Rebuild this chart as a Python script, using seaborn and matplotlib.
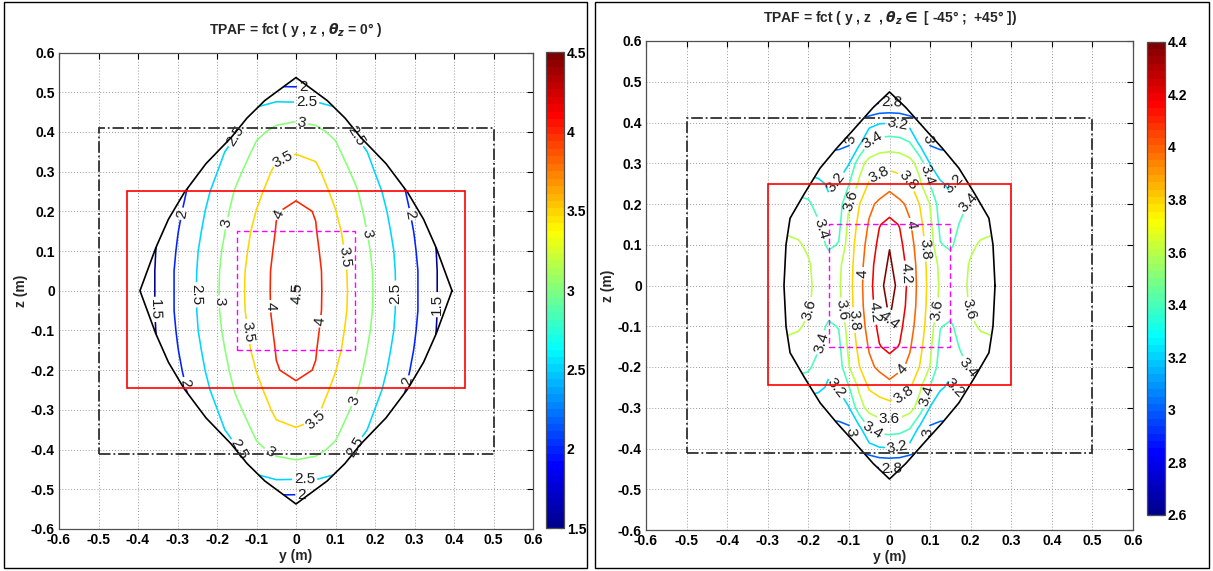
import numpy as np
import matplotlib
matplotlib.use("Agg")
import matplotlib.pyplot as plt
import seaborn as sns
from matplotlib.colors import LinearSegmentedColormap, Normalize
from matplotlib.patches import Polygon, Rectangle
from matplotlib.ticker import MultipleLocator, FuncFormatter

# ---------------- data (one quadrant, y>=0, z>=0; the charts are symmetric) ----------------
# Left chart: TPAF(y, z, theta_z = 0)
y_left = [0.00, 0.05, 0.10, 0.15, 0.20, 0.25, 0.30, 0.35, 0.40, 0.45]
z_left = [0.00, 0.05, 0.10, 0.15, 0.20, 0.25, 0.30, 0.35, 0.40, 0.45, 0.50, 0.55, 0.60]
tpaf_left = [
    [4.52, 4.12, 3.73, 3.35, 2.96, 2.52, 2.09, 1.57, 1.10, 0.65],
    [4.47, 4.11, 3.73, 3.33, 2.95, 2.51, 2.09, 1.57, 1.10, 0.65],
    [4.38, 4.07, 3.67, 3.29, 2.91, 2.48, 2.04, 1.55, 1.05, 0.60],
    [4.25, 4.02, 3.61, 3.23, 2.84, 2.41, 1.98, 1.50, 1.00, 0.55],
    [4.09, 3.98, 3.51, 3.15, 2.76, 2.33, 1.90, 1.45, 0.95, 0.50],
    [3.92, 3.68, 3.41, 3.06, 2.64, 2.24, 1.80, 1.35, 0.90, 0.45],
    [3.72, 3.58, 3.27, 2.90, 2.49, 2.10, 1.70, 1.25, 0.80, 0.40],
    [3.47, 3.42, 3.10, 2.73, 2.35, 2.00, 1.60, 1.20, 0.80, 0.40],
    [3.16, 3.09, 2.92, 2.46, 2.20, 1.90, 1.50, 1.10, 0.70, 0.30],
    [2.85, 2.82, 2.65, 2.30, 2.00, 1.70, 1.30, 0.90, 0.50, 0.20],
    [2.15, 2.20, 2.05, 1.80, 1.50, 1.20, 0.90, 0.60, 0.30, 0.10],
    [1.60, 1.50, 1.40, 1.20, 1.00, 0.80, 0.60, 0.40, 0.20, 0.10],
    [1.00, 1.00, 0.90, 0.80, 0.70, 0.60, 0.40, 0.30, 0.20, 0.10],
]
levels_left = [1.5, 2.0, 2.5, 3.0, 3.5, 4.0, 4.5]
cbar_ticks_left = [1.5, 2.0, 2.5, 3.0, 3.5, 4.0, 4.5]
bound_left_y = [0.395, 0.355, 0.323, 0.283, 0.228, 0.164, 0.124, 0.079, 0.0]
bound_left_z = [0.0, 0.108, 0.18, 0.247, 0.32, 0.386, 0.435, 0.479, 0.537]

# Right chart: TPAF(y, z, theta_z in [-45; +45])
y_right = [0.0, 0.025, 0.05, 0.075, 0.1, 0.125, 0.15, 0.175, 0.2, 0.225, 0.25, 0.275, 0.3]
z_right = [0.0, 0.05, 0.10, 0.15, 0.20, 0.25, 0.30, 0.35, 0.40, 0.45, 0.50]
tpaf_right = [
    [4.47, 4.35, 4.126, 3.933, 3.731, 3.576, 3.50, 3.55, 3.63, 3.68, 3.71, 3.72, 3.72],
    [4.43, 4.31, 4.115, 3.92, 3.72, 3.56, 3.48, 3.53, 3.62, 3.66, 3.69, 3.70, 3.70],
    [4.39, 4.25, 4.077, 3.89, 3.70, 3.41, 3.37, 3.47, 3.57, 3.62, 3.64, 3.64, 3.64],
    [4.25, 4.19, 4.02, 3.85, 3.65, 3.35, 3.30, 3.42, 3.50, 3.54, 3.55, 3.55, 3.55],
    [4.105, 4.04, 3.956, 3.79, 3.59, 3.30, 3.24, 3.33, 3.43, 3.46, 3.46, 3.46, 3.46],
    [3.933, 3.87, 3.82, 3.63, 3.39, 3.22, 3.17, 3.25, 3.30, 3.30, 3.30, 3.30, 3.30],
    [3.73, 3.72, 3.67, 3.52, 3.19, 3.10, 3.08, 3.05, 3.05, 3.05, 3.05, 3.05, 3.05],
    [3.50, 3.48, 3.41, 3.15, 2.97, 2.95, 2.95, 2.95, 2.95, 2.95, 2.95, 2.95, 2.95],
    [3.19, 3.18, 3.12, 3.05, 2.98, 2.95, 2.95, 2.95, 2.95, 2.95, 2.95, 2.95, 2.95],
    [2.79, 2.78, 2.75, 2.70, 2.70, 2.70, 2.70, 2.70, 2.70, 2.70, 2.70, 2.70, 2.70],
    [2.30, 2.30, 2.30, 2.30, 2.30, 2.30, 2.30, 2.30, 2.30, 2.30, 2.30, 2.30, 2.30],
]
levels_right = [2.8, 3.0, 3.2, 3.4, 3.6, 3.8, 4.0, 4.2, 4.4]
cbar_ticks_right = [2.6, 2.8, 3.0, 3.2, 3.4, 3.6, 3.8, 4.0, 4.2, 4.4]
bound_right_y = [0.26, 0.255, 0.245, 0.21, 0.171, 0.13, 0.089, 0.04, 0.0]
bound_right_z = [0.0, 0.1, 0.165, 0.225, 0.288, 0.337, 0.382, 0.437, 0.475]

title_left = r"TPAF = fct ( y , z , $\theta_{z}$ = 0° )"
title_right = r"TPAF = fct ( y , z  , $\theta_{z} \in$ [ -45° ;  +45° ])"

# ---------------- style ----------------
sns.set_theme(style="white")
plt.rcParams["font.family"] = ["Liberation Sans", "DejaVu Sans"]
plt.rcParams["font.weight"] = "bold"
plt.rcParams["font.size"] = 10
plt.rcParams["axes.unicode_minus"] = False
plt.rcParams["axes.labelweight"] = "bold"

seg = {
    "red":   [(0, 0, 0), (0.375, 0, 0), (0.625, 1, 1), (0.875, 1, 1), (1, 0.5, 0.5)],
    "green": [(0, 0, 0), (0.125, 0, 0), (0.375, 1, 1), (0.625, 1, 1), (0.875, 0, 0), (1, 0, 0)],
    "blue":  [(0, 0.5625, 0.5625), (0.125, 1, 1), (0.375, 1, 1), (0.625, 0, 0), (1, 0, 0)],
}
mjet = LinearSegmentedColormap("mjet", seg, N=64)


def mirror(yq, zq, vq):
    yq = np.asarray(yq, float)
    zq = np.asarray(zq, float)
    v = np.asarray(vq, float)
    y = np.concatenate([-yq[:0:-1], yq])
    z = np.concatenate([-zq[:0:-1], zq])
    vy = np.concatenate([v[:, :0:-1], v], axis=1)
    vz = np.concatenate([vy[:0:-1, :], vy], axis=0)
    return y, z, vz


def boundary(by, bz):
    q1 = list(zip(by, bz))
    q2 = [(-a, b) for (a, b) in reversed(q1)][1:]
    q3 = [(-a, -b) for (a, b) in q1][1:]
    q4 = [(a, -b) for (a, b) in reversed(q1)][1:-1]
    return np.array(q1 + q2 + q3 + q4)


def fmt_tick(v, p):
    if abs(v) < 1e-9:
        return "0"
    return "%g" % round(v, 2)


W, H = 1213, 571
fig = plt.figure(figsize=(W / 100, H / 100), dpi=100)
fig.patch.set_facecolor("white")

ax1 = fig.add_axes([59 / W, 1 - 529 / H, 474 / W, 476.5 / H])
cax1 = fig.add_axes([546 / W, 1 - 528 / H, 18 / W, 475.7 / H])
ax2 = fig.add_axes([646 / W, 1 - 530 / H, 487 / W, 489 / H])
cax2 = fig.add_axes([1147 / W, 1 - 515 / H, 18 / W, 473.3 / H])


def draw_panel(ax, cax, yq, zq, vq, levels, vmin, vmax, cticks, by, bz,
               red_w, label_pos):
    y, z, v = mirror(yq, zq, vq)
    Y, Z = np.meshgrid(y, z)
    norm = Normalize(vmin, vmax)
    ax.set_xlim(-0.6, 0.6)
    ax.set_ylim(-0.6, 0.6)
    ax.grid(True, linestyle=(0, (1, 2)), color="#9a9a9a", linewidth=0.7)
    ax.set_axisbelow(True)

    cs = ax.contour(Y, Z, v, levels=levels, cmap=mjet, norm=norm, linewidths=1.15)
    texts = ax.clabel(cs, manual=label_pos, inline=True, inline_spacing=2,
                      fmt="%g", fontsize=11, colors="k")
    for t in texts:
        t.set_fontweight("normal")
    pts = boundary(by, bz)
    clip = Polygon(pts, closed=True, transform=ax.transData)
    cs.set_clip_path(clip)

    closed = np.vstack([pts, pts[:1]])
    ax.plot(closed[:, 0], closed[:, 1], color="black", lw=1.2, zorder=4)

    ax.add_patch(Rectangle((-0.5, -0.41), 1.0, 0.82, fill=False, ls="-.",
                           ec="#303030", lw=1.3, zorder=5))
    ax.add_patch(Rectangle((-red_w, -0.245), 2 * red_w, 0.495, fill=False,
                           ec="red", lw=1.2, zorder=5))
    ax.add_patch(Rectangle((-0.15, -0.15), 0.3, 0.3, fill=False, ls=(0, (4, 2.5)),
                           ec="magenta", lw=1.0, zorder=5))

    ax.xaxis.set_major_locator(MultipleLocator(0.1))
    ax.yaxis.set_major_locator(MultipleLocator(0.1))
    ax.xaxis.set_major_formatter(FuncFormatter(fmt_tick))
    ax.yaxis.set_major_formatter(FuncFormatter(fmt_tick))
    ax.tick_params(direction="in", top=True, right=True, length=4, width=0.8,
                   labelsize=10, pad=3, colors="black")
    for s in ax.spines.values():
        s.set_color("#505050")
        s.set_linewidth(0.9)
    ax.set_xlabel("y (m)", fontsize=10, fontweight="bold", labelpad=1)
    ax.set_ylabel("z (m)", fontsize=10, fontweight="bold", labelpad=2)

    sm = plt.cm.ScalarMappable(norm=norm, cmap=mjet)
    cb = fig.colorbar(sm, cax=cax, ticks=cticks)
    cb.ax.yaxis.set_major_formatter(FuncFormatter(fmt_tick))
    cb.ax.tick_params(direction="in", left=True, right=True, length=4, width=0.8,
                      labelsize=10, pad=2, colors="black")
    cb.outline.set_edgecolor("#505050")
    cb.outline.set_linewidth(0.9)


labels_left = [
    (0.018, 0.510), (0.027, 0.474), (0.014, 0.422), (-0.147, 0.386), (0.146, 0.386),
    (-0.037, 0.338), (-0.279, 0.192), (0.286, 0.192), (-0.035, 0.19), (-0.16, 0.167),
    (0.163, 0.142), (0.112, 0.083), (-0.252, -0.01), (-0.195, -0.027), (0.0, -0.005),
    (-0.064, -0.039), (0.062, -0.077), (-0.357, -0.047), (0.252, -0.006), (0.357, -0.035),
    (-0.118, -0.102), (-0.283, -0.233), (0.28, -0.228), (0.146, -0.275), (0.057, -0.334),
    (-0.147, -0.401), (-0.075, -0.42), (0.154, -0.397), (0.022, -0.477), (0.014, -0.514),
]

labels_right = [
    (0.005, 0.447), (0.02, 0.398), (-0.105, 0.36), (0.105, 0.36), (-0.045, 0.364),
    (-0.03, 0.283), (0.055, 0.27), (0.088, 0.27), (0.15, 0.255), (-0.125, 0.245),
    (-0.097, 0.21), (0.2, 0.2), (-0.168, 0.14), (0.05, 0.15), (0.087, 0.09),
    (-0.066, 0.03), (0.037, 0.03), (-0.193, -0.06), (0.193, -0.06), (-0.116, -0.06),
    (-0.09, -0.085), (-0.033, -0.065), (-0.005, -0.085), (0.116, -0.06),
    (-0.168, -0.14), (0.195, -0.2), (0.037, -0.21), (-0.13, -0.25), (0.04, -0.275),
    (0.088, -0.27), (0.15, -0.255), (0.0, -0.328), (-0.045, -0.364), (0.105, -0.36),
    (-0.105, -0.36), (0.02, -0.398), (0.005, -0.447),
]

draw_panel(ax1, cax1, y_left, z_left, tpaf_left, levels_left, 1.5, 4.5,
           cbar_ticks_left, bound_left_y, bound_left_z, 0.428, labels_left)
draw_panel(ax2, cax2, y_right, z_right, tpaf_right, levels_right, 2.6, 4.4,
           cbar_ticks_right, bound_right_y, bound_right_z, 0.30, labels_right)

fig.text(296 / W, 1 - 30 / H, title_left, ha="center", va="center",
         fontsize=10, fontweight="bold")
fig.text(890 / W, 1 - 18 / H, title_right, ha="center", va="center",
         fontsize=10, fontweight="bold")

fig.add_artist(Rectangle((4 / W, 1 - 568 / H), 583 / W, 566 / H, transform=fig.transFigure,
                         fill=False, ec="black", lw=1.0))
fig.add_artist(Rectangle((595 / W, 1 - 568 / H), 614 / W, 566 / H, transform=fig.transFigure,
                         fill=False, ec="black", lw=1.0))

fig.savefig("out.png", dpi=100, facecolor="white")
